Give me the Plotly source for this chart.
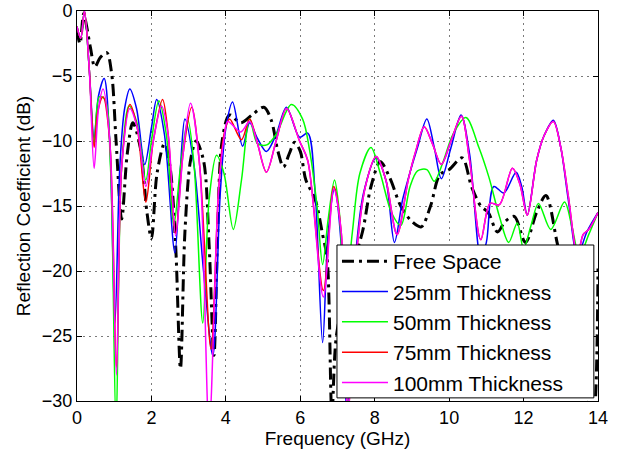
import plotly.graph_objects as go

# ---- data ----
free_f = [0, 0.08, 0.18, 0.26, 0.36, 0.48, 0.62, 0.8, 0.93, 1.05, 1.2, 1.35, 1.5, 1.7, 1.88, 2.0, 2.15, 2.35, 2.5, 2.65, 2.78, 2.9, 3.05, 3.2, 3.4, 3.55, 3.68, 3.78, 3.9, 4.1, 4.4, 4.7, 5.02, 5.22, 5.4, 5.55, 5.7, 5.85, 6.0, 6.15, 6.4, 6.6, 6.72, 6.85, 6.97, 7.3, 7.67, 7.9, 8.15, 8.4, 8.7, 9.0, 9.25, 9.5, 9.75, 10.0, 10.35, 10.6, 10.85, 11.05, 11.3, 11.5, 11.75, 12.05, 12.35, 12.6, 12.9, 13.2, 13.5, 13.85, 14.0]
free_db = [-1.5, -2.5, -0.2, -1.2, -2.8, -4.3, -3.6, -3.2, -4.8, -10, -16, -11, -8.6, -10.5, -15.5, -17.5, -12.5, -10.2, -12, -18, -27.5, -17, -11.5, -10, -11.5, -18, -26.5, -17, -10, -8.0, -8.6, -8.0, -7.4, -8.4, -10.8, -12, -11, -10.1, -10.8, -13, -14.5, -17.2, -19, -31, -25, -20.5, -17, -13.5, -11.6, -12.8, -15, -16.2, -16.6, -15, -12.6, -12.2, -11.3, -13.5, -15, -15.5, -17, -16.2, -15.8, -17.8, -15.5, -14.2, -17.8, -22, -27, -32, -19.8]

t25_f = [0, 0.1, 0.2, 0.33, 0.46, 0.58, 0.73, 0.88, 1.02, 1.15, 1.28, 1.42, 1.6, 1.82, 2.0, 2.14, 2.35, 2.63, 2.78, 2.9, 3.15, 3.4, 3.65, 3.85, 4.0, 4.18, 4.45, 4.64, 4.85, 5.09, 5.35, 5.63, 5.98, 6.2, 6.4, 6.6, 6.75, 6.92, 7.1, 7.25, 7.45, 7.7, 8.04, 8.3, 8.53, 8.75, 8.93, 9.15, 9.4, 9.6, 9.79, 10.05, 10.32, 10.55, 10.85, 11.0, 11.2, 11.47, 11.8, 11.95, 12.1, 12.35, 12.55, 12.8, 13.0, 13.2, 13.45, 13.7, 14.0]
t25_db = [-1.2, -2.1, 0, -4.5, -9.8, -6.5, -5.2, -10, -24, -12, -7.5, -6.0, -7.5, -11.8, -9, -6.8, -9.5, -18.6, -12, -8.3, -12, -20, -26.5, -14, -9, -7.0, -10.4, -8.6, -9.8, -10.8, -9.5, -7.4, -9.7, -9.4, -14, -25.5, -17, -13.7, -18, -31, -20, -14, -11.3, -13, -17.8, -14.5, -12.6, -10.5, -8.3, -10.5, -12.9, -10.5, -8.0, -11, -19, -17.8, -13.5, -14, -12.4, -13.5, -15.7, -11.5, -9.6, -8.4, -10.5, -14.5, -18.8, -17, -15.5]

t50_f = [0, 0.1, 0.2, 0.33, 0.46, 0.6, 0.75, 0.9, 1.05, 1.2, 1.4, 1.6, 1.85, 2.0, 2.2, 2.4, 2.6, 2.78, 2.98, 3.15, 3.38, 3.55, 3.75, 3.95, 4.2, 4.42, 4.64, 4.85, 5.1, 5.35, 5.76, 6.06, 6.25, 6.45, 6.6, 6.75, 6.92, 7.05, 7.2, 7.4, 7.6, 7.9, 8.15, 8.45, 8.7, 8.95, 9.15, 9.4, 9.6, 9.85, 10.1, 10.45, 10.8, 11.07, 11.35, 11.6, 11.83, 12.0, 12.2, 12.4, 12.73, 13.1, 13.3, 13.5, 13.75, 14.0]
t50_db = [-1.2, -2.1, 0, -4.5, -10.2, -6.6, -6.8, -12, -32, -12, -7.3, -8.5, -13, -10, -6.9, -9.5, -16.5, -12, -8.4, -12, -24, -14.5, -11.1, -12.5, -16.8, -13, -8.3, -10.2, -10.3, -9.5, -7.2, -8.3, -10.7, -15, -19.5, -16, -13, -15.5, -22, -17, -12.5, -10.5, -12.5, -15.5, -16.5, -13.5, -12.3, -12.2, -13.1, -11.5, -9.5, -8.2, -10.5, -12.8, -15.8, -17.8, -16.3, -18.3, -16.5, -14.8, -16.8, -14.7, -16.6, -18.8, -17.2, -15.5]

t75_f = [0, 0.1, 0.2, 0.33, 0.46, 0.56, 0.7, 0.88, 1.06, 1.2, 1.42, 1.62, 1.85, 2.05, 2.3, 2.45, 2.65, 2.85, 3.08, 3.3, 3.6, 3.8, 3.95, 4.1, 4.42, 4.64, 4.85, 5.09, 5.35, 5.63, 5.98, 6.2, 6.62, 6.9, 7.1, 7.28, 7.5, 7.75, 8.04, 8.3, 8.6, 8.9, 9.1, 9.33, 9.55, 9.79, 10.05, 10.33, 10.55, 10.85, 11.1, 11.35, 11.7, 11.9, 12.1, 12.35, 12.55, 12.8, 13.0, 13.2, 13.45, 13.6, 13.75, 14.0]
t75_db = [-1.2, -2.1, 0, -4.5, -10.5, -7.7, -6.6, -10, -27.4, -12, -7.2, -9, -14.7, -10, -6.8, -9.5, -17.1, -11, -7.4, -12, -26, -14, -9.5, -8.3, -9.9, -8.3, -10.2, -12.4, -10, -7.5, -10.0, -11.5, -21.5, -13.5, -17, -31, -19, -13.5, -11.2, -13, -17.2, -13, -10.8, -8.9, -10.2, -11.8, -10, -8.1, -11.5, -17.6, -14.8, -14.9, -12.1, -13.3, -15.7, -11.5, -9.6, -8.5, -10.5, -14.2, -18.8, -17.2, -16.8, -15.5]

t100_f = [0, 0.1, 0.2, 0.33, 0.46, 0.58, 0.7, 0.88, 1.06, 1.2, 1.42, 1.62, 1.85, 2.05, 2.27, 2.45, 2.65, 2.85, 3.05, 3.3, 3.55, 3.8, 3.95, 4.05, 4.4, 4.64, 4.85, 5.09, 5.35, 5.63, 5.98, 6.2, 6.62, 6.9, 7.1, 7.28, 7.5, 7.75, 8.04, 8.3, 8.6, 8.9, 9.1, 9.33, 9.55, 9.79, 10.05, 10.33, 10.55, 10.85, 11.1, 11.35, 11.7, 11.9, 12.1, 12.35, 12.55, 12.8, 13.0, 13.2, 13.45, 13.6, 13.75, 14.0]
t100_db = [-1.2, -2.1, 0, -4.5, -12.1, -7.5, -6.0, -10, -28, -12, -7.5, -9, -13.5, -10, -7.3, -9.5, -17.3, -11, -7.1, -12, -32, -14, -9.8, -8.5, -9.3, -8.5, -10.2, -12.4, -10, -7.5, -10.0, -11.5, -22, -13.7, -17, -31, -19, -13.5, -11.2, -13, -17.2, -13, -10.8, -8.9, -10.2, -11.8, -10, -8.1, -11.5, -17.6, -14.8, -14.9, -12.1, -13.3, -15.7, -11.5, -9.6, -8.5, -10.5, -14.2, -18.8, -17.2, -16.8, -15.5]

names = ["Free Space", "25mm Thickness", "50mm Thickness", "75mm Thickness", "100mm Thickness"]
series = [(free_f, free_db), (t25_f, t25_db), (t50_f, t50_db), (t75_f, t75_db), (t100_f, t100_db)]
colors = ["#000000", "#0000ff", "#00ff00", "#ff0000", "#ff00ff"]
widths = [3, 1.5, 1.5, 1.5, 1.5]
dashes = ["12px,5px,3px,5px", "solid", "solid", "solid", "solid"]

fig = go.Figure()
for (f, d), n, c, w, ds in zip(series, names, colors, widths, dashes):
    fig.add_trace(go.Scatter(x=f, y=d, mode="lines", name=n,
                             line=dict(color=c, width=w, dash=ds, shape="spline", smoothing=0.9)))

font = "Liberation Sans, Arial, Helvetica, sans-serif"
axis_common = dict(showline=True, linecolor="black", linewidth=1, mirror="ticks",
                   ticks="inside", ticklen=5, tickcolor="black", automargin=False,
                   showgrid=True, gridcolor="#7a7a7a", gridwidth=1, griddash="2px,4px",
                   zeroline=False, tickfont=dict(size=18, color="black", family=font))

fig.update_xaxes(range=[0, 14], tickvals=[0, 2, 4, 6, 8, 10, 12, 14],
                 title=dict(text="Frequency (GHz)", font=dict(size=19, color="black", family=font), standoff=2),
                 **axis_common)
fig.update_yaxes(range=[-30, 0], tickvals=[-30, -25, -20, -15, -10, -5, 0],
                 title=dict(text="Reflection Coefficient (dB)", font=dict(size=19, color="black", family=font), standoff=6),
                 **axis_common)

# legend frame drawn as a white box above the traces
fig.add_shape(type="rect", xref="paper", yref="paper",
              x0=0.499, x1=0.992, y0=0.008, y1=0.4,
              fillcolor="white", line=dict(color="black", width=1), layer="above")

fig.update_layout(
    width=627, height=455,
    margin=dict(l=77, r=29, t=11, b=54, autoexpand=False),
    paper_bgcolor="white", plot_bgcolor="white",
    font=dict(family=font, color="black"),
    legend=dict(x=0.499, y=0.41, xanchor="left", yanchor="top",
                bgcolor="rgba(0,0,0,0)", borderwidth=0,
                font=dict(size=21, color="black", family=font),
                itemwidth=46, tracegroupgap=0),
    showlegend=True,
)

fig.write_html("out.html", post_script="document.body.style.margin='0px';",
               config={"displayModeBar": False})
